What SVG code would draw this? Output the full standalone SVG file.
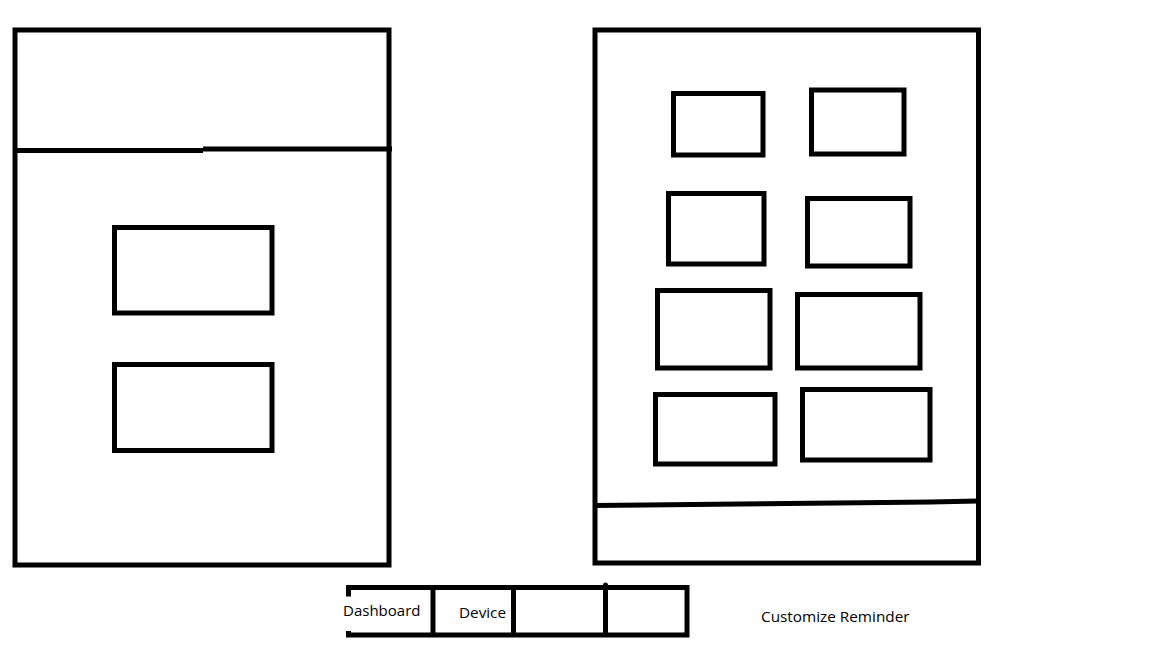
<svg xmlns="http://www.w3.org/2000/svg" width="1152" height="648" viewBox="0 0 1152 648">
<style>
.s{fill:none;stroke:#000;stroke-width:5;stroke-linecap:butt}
.t{font-family:"Open Sans","Noto Sans","Liberation Sans",sans-serif;font-size:14.5px;fill:#000}
</style>
<rect width="1152" height="648" fill="#fff"/>
<g id="left-panel">
<rect class="s" x="15" y="30" width="374" height="535"/>
<path class="s" d="M15 150.5H203M203 149H392"/>
<rect id="left-box-1" class="s" x="114.5" y="227.5" width="157.5" height="85.5"/>
<rect id="left-box-2" class="s" x="114.5" y="364.5" width="157.5" height="86"/>
</g>
<g id="right-panel">
<rect class="s" x="595" y="30" width="383.5" height="533"/>
<path class="s" d="M595 505.5L645 505L740 504L836 503L931 502L978 501"/>
<rect id="r-box-1" class="s" x="673.5" y="93.5" width="89.5" height="61.5"/>
<rect id="r-box-2" class="s" x="811.5" y="90" width="92.5" height="64"/>
<rect id="r-box-3" class="s" x="668.5" y="193.5" width="95.5" height="70.5"/>
<rect id="r-box-4" class="s" x="807.5" y="198.5" width="102.5" height="67.5"/>
<rect id="r-box-5" class="s" x="657.5" y="290.5" width="112.5" height="77.5"/>
<rect id="r-box-6" class="s" x="797.5" y="294.5" width="122.5" height="73.5"/>
<rect id="r-box-7" class="s" x="655.5" y="394.5" width="119.5" height="69.5"/>
<rect id="r-box-8" class="s" x="802.5" y="389.5" width="127.5" height="70.5"/>
</g>
<g id="tab-bar">
<path class="s" d="M346 587.5H687V635H346M348.5 587.5V596.5M348.5 631V635"/>
<path class="s" d="M433 587.5V635M513.5 587.5V635M605.5 585V635"/>
<circle cx="605.5" cy="585" r="2.5" fill="#000"/>
<text class="t" x="343" y="615.5" textLength="77.5" lengthAdjust="spacingAndGlyphs">Dashboard</text>
<text class="t" x="459" y="617.5" textLength="47" lengthAdjust="spacingAndGlyphs">Device</text>
</g>
<g id="label">
<text class="t" x="761" y="621.5" textLength="148.5" lengthAdjust="spacingAndGlyphs">Customize Reminder</text>
</g>
</svg>
